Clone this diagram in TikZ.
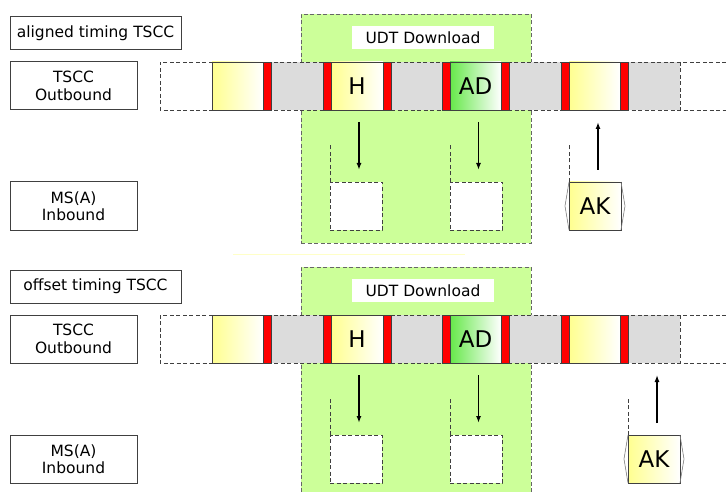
\documentclass[tikz,border=0pt]{standalone}
\usepackage{fontspec}
\setmainfont{DejaVu Sans}
\usetikzlibrary{arrows.meta}

\definecolor{udtgreen}{HTML}{CCFF99}
\definecolor{slotgray}{HTML}{DCDCDC}
\definecolor{edgegray}{HTML}{404040}
\definecolor{slotyellow}{HTML}{FFFF90}
\definecolor{adgreen}{HTML}{66E84A}
\definecolor{sepyellow}{HTML}{FFFFC8}

\tikzset{
  lbl/.style={draw=edgegray, line width=1pt, fill=white, anchor=north west,
    inner sep=0pt, outer sep=0pt, align=center,
    font=\fontsize{15.5}{17.5}\selectfont},
  cellbase/.style={anchor=north west, inner sep=0pt, outer sep=0pt, minimum height=48pt},
  redcell/.style={cellbase, draw=edgegray, line width=0.7pt, fill=red, minimum width=8pt},
  graycell/.style={cellbase, fill=slotgray, minimum width=#1},
  ycell/.style={cellbase, draw=edgegray, line width=0.8pt, left color=slotyellow,
    right color=white, minimum width=#1, font=\fontsize{23}{26}\selectfont},
  adcell/.style={cellbase, draw=edgegray, line width=0.8pt, left color=adgreen,
    right color=white, minimum width=#1, font=\fontsize{23}{26}\selectfont},
  resbox/.style={cellbase, draw=edgegray, dashed, dash pattern=on 4pt off 2.5pt,
    line width=0.8pt, fill=white, minimum width=52pt},
  greenbox/.style={anchor=north west, inner sep=0pt, outer sep=0pt, fill=udtgreen,
    draw=edgegray!80, line width=0.8pt, dash pattern=on 4pt off 2.5pt},
  udtlabel/.style={anchor=north west, inner sep=0pt, outer sep=0pt, fill=white,
    font=\fontsize{15.5}{18}\selectfont},
  dashline/.style={draw=edgegray, line width=0.8pt, dash pattern=on 4pt off 2.5pt},
  hexline/.style={draw=gray, line width=0.6pt},
  arr/.style={-{Latex[length=7pt,width=5pt]}, line width=#1},
}

\newcommand\tsccpanel[5]{% #1 prefix, #2 y offset, #3 title, #4 AK left x, #5 up arrow width
\begin{scope}[yshift=-#2pt]
  % UDT download region
  \node[greenbox, minimum width=230pt, minimum height=229pt] (#1-udt) at (301,14) {};
  \node[udtlabel, minimum width=142pt, minimum height=23pt] (#1-udtl) at (352,26) {UDT Download};
  % labels
  \node[lbl, minimum width=171pt, minimum height=33pt] (#1-title) at (10,17) {#3};
  \node[lbl, minimum width=127pt, minimum height=48pt] (#1-out) at (10,62) {TSCC\\Outbound};
  \node[lbl, minimum width=127pt, minimum height=48pt] (#1-in) at (10,182) {MS(A)\\Inbound};
  % gray (idle) slots
  \node[graycell=52pt] (#1-g1) at (271,62) {};
  \node[graycell=52pt] (#1-g2) at (390,62) {};
  \node[graycell=52pt] (#1-g3) at (509,62) {};
  \node[graycell=52pt] (#1-g4) at (628,62) {};
  % dashed strip outline
  \coordinate (#1-sa) at (726,62);
  \coordinate (#1-sb) at (160,62);
  \coordinate (#1-sc) at (160,110);
  \coordinate (#1-sd) at (726,110);
  \coordinate (#1-se) at (680,62);
  \coordinate (#1-sf) at (680,110);
  \draw[dashline] (#1-sa) -- (#1-sb) -- (#1-sc) -- (#1-sd);
  \draw[dashline] (#1-se) -- (#1-sf);
  % solid slots
  \node[ycell=51pt] (#1-y1) at (212,62) {};
  \node[redcell] (#1-r1) at (263,62) {};
  \node[redcell] (#1-r2) at (323,62) {};
  \node[ycell=52pt] (#1-h) at (331,62) {H};
  \node[redcell] (#1-r3) at (383,62) {};
  \node[redcell] (#1-r4) at (442,62) {};
  \node[adcell=51pt] (#1-ad) at (450,62) {AD};
  \node[redcell] (#1-r5) at (501,62) {};
  \node[redcell] (#1-r6) at (561,62) {};
  \node[ycell=51pt] (#1-y2) at (569,62) {};
  \node[redcell] (#1-r7) at (620,62) {};
  % inbound result boxes
  \node[resbox] (#1-hb) at (330,182) {};
  \node[resbox] (#1-adb) at (450,182) {};
  \draw[dashline] (#1-hb.north west) -- ++(0,-37);
  \draw[dashline] (#1-adb.north west) -- ++(0,-37);
  \draw[arr=1.7pt] ([xshift=2pt,yshift=-12pt]#1-h.south) -- ([xshift=2pt,yshift=12pt]#1-h.south |- #1-hb.north);
  \draw[arr=1.7pt] ([xshift=3pt,yshift=-12pt]#1-ad.south) -- ([xshift=3pt,yshift=12pt]#1-ad.south |- #1-adb.north);
  % AK
  \node[ycell=52pt] (#1-ak) at (#4,182) {AK};
  \draw[hexline] (#1-ak.north west) -- ([xshift=-4pt]#1-ak.west) -- (#1-ak.south west);
  \draw[hexline] (#1-ak.north east) -- ([xshift=4pt]#1-ak.east) -- (#1-ak.south east);
  \draw[dashline] (#1-ak.north west) -- ++(0,-37);
  \draw[arr=#5] ([xshift=3pt,yshift=12pt]#1-ak.north) -- ++(0,-48);
\end{scope}}

\begin{document}
\begin{tikzpicture}[x=1pt,y=-1pt]
  \useasboundingbox[fill=white] (0,0) rectangle (726,492);
  \clip (0,0) rectangle (726,492);
  \tsccpanel{a}{0}{aligned timing TSCC}{569}{1.7pt}
  \tsccpanel{b}{253}{offset timing TSCC}{628}{1.3pt}
  \coordinate (sepl) at (233,254);
  \coordinate (sepr) at (465,254);
  \draw[sepyellow, line width=1pt] (sepl) -- (sepr);
\end{tikzpicture}
\end{document}
